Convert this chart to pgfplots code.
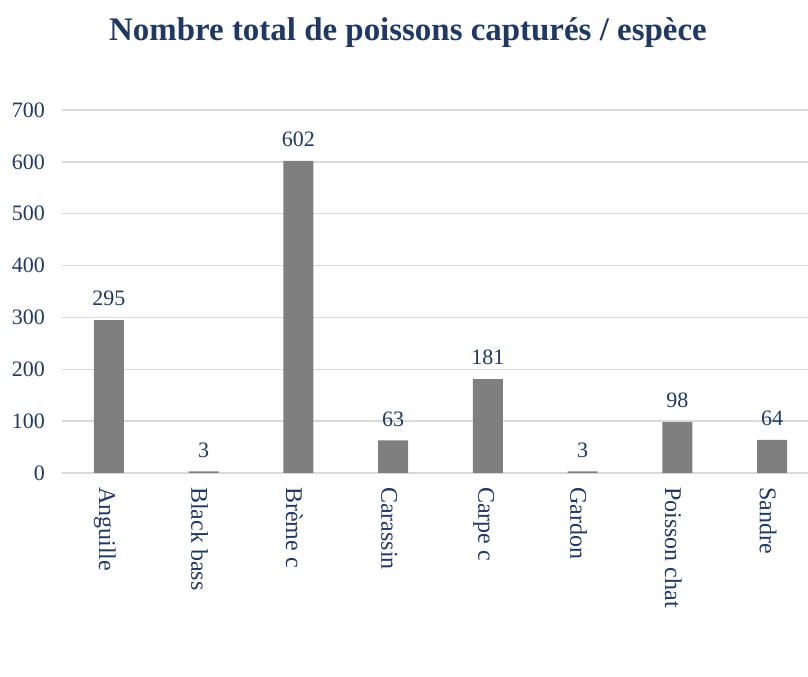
\documentclass[border=0pt]{standalone}
\usepackage{fontspec}
\setmainfont{Liberation Serif}
\usepackage{pgfplots}
\pgfplotsset{compat=1.18}
\definecolor{navy}{HTML}{1F3864}
\definecolor{bargray}{HTML}{7F7F7F}
\definecolor{gridgray}{HTML}{D9D9D9}
\begin{document}
\begin{tikzpicture}
\begin{axis}[
  at={(46.2pt,153pt)}, anchor=south west,
  scale only axis, width=559.8pt, height=272.25pt,
  xmin=-0.5, xmax=7.38, ymin=0, ymax=700,
  ytick={0,100,...,700},
  xtick=data,
  xticklabels={Anguille,Black bass,Brème c,Carassin,Carpe c,Gardon,Poisson chat,Sandre},
  /pgf/number format/assume math mode=true,
  xticklabel style={rotate=-90, anchor=west, xshift=7pt, yshift=-3pt, font=\fontsize{18}{21}\selectfont, text=navy},
  yticklabel style={xshift=-9pt, font=\fontsize{16.5}{19}\selectfont, text=navy},
  major tick length=0pt,
  axis x line*=bottom, axis y line*=left,
  y axis line style={draw=none},
  x axis line style={gridgray, line width=1pt},
  ymajorgrids, grid style={gridgray, line width=1pt},
  ybar, bar width=22.5pt,
  nodes near coords,
  nodes near coords style={font=\fontsize{16.5}{19}\selectfont, text=navy, yshift=7pt},
]
\addplot[fill=bargray, draw=none] coordinates {(0,295) (1,3) (2,602) (3,63) (4,181) (5,3) (6,98) (7,64)};
\end{axis}
\node[font=\bfseries\fontsize{24.7}{29}\selectfont, text=navy] at (306pt,483pt) {Nombre total de poissons capturés / espèce};
\pgfresetboundingbox
\path[use as bounding box] (0,0) rectangle (606pt,507.75pt);
\end{tikzpicture}
\end{document}
